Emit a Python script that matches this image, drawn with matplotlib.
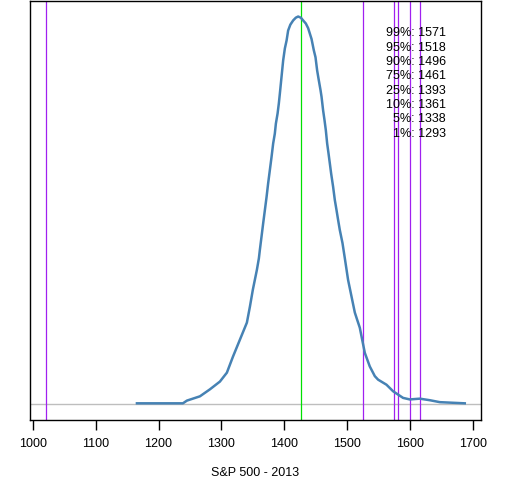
import numpy as np
import matplotlib
matplotlib.use("Agg")
import matplotlib.pyplot as plt

plt.rcParams["font.family"] = ["Liberation Sans", "DejaVu Sans"]

# density estimate of the index level (relative height)
level = [1165.7, 1202.2, 1238.8, 1245.2, 1265.8, 1281.7, 1297.6, 1308.7,
         1318.3, 1329.4, 1340.5, 1345.3, 1350.0, 1356.4, 1359.6, 1361.1,
         1363.8, 1366.4, 1369.1, 1371.8, 1374.3, 1377.0, 1379.7, 1382.3,
         1384.9, 1386.6, 1389.3, 1391.3, 1392.9, 1394.5, 1396.9, 1398.2,
         1400.9, 1403.6, 1406.1, 1409.6, 1414.1, 1418.3, 1422.0, 1426.3,
         1429.9, 1434.2, 1437.9, 1440.6, 1443.3, 1446.9, 1449.6, 1452.2,
         1454.9, 1457.6, 1459.2, 1461.7, 1463.9, 1466.0, 1468.1, 1470.3,
         1472.4, 1474.4, 1477.6, 1480.3, 1483.0, 1485.5, 1488.2, 1492.5,
         1496.2, 1501.4, 1512.1, 1515.7, 1520.0, 1522.7, 1528.0, 1535.9,
         1543.9, 1549.1, 1562.4, 1573.0, 1588.8, 1599.5, 1615.4, 1631.3,
         1647.2, 1686.9]
dens = [0.003, 0.003, 0.003, 0.010, 0.021, 0.039, 0.059, 0.082,
        0.123, 0.167, 0.211, 0.252, 0.296, 0.347, 0.377, 0.398,
        0.433, 0.467, 0.501, 0.535, 0.570, 0.604, 0.638, 0.673,
        0.698, 0.724, 0.750, 0.776, 0.801, 0.827, 0.866, 0.887,
        0.918, 0.938, 0.964, 0.979, 0.990, 0.997, 1.000, 0.997,
        0.990, 0.982, 0.970, 0.956, 0.942, 0.913, 0.895, 0.861,
        0.835, 0.810, 0.793, 0.758, 0.733, 0.707, 0.673, 0.647,
        0.621, 0.596, 0.561, 0.527, 0.501, 0.476, 0.450, 0.416,
        0.377, 0.321, 0.237, 0.219, 0.198, 0.176, 0.133, 0.098,
        0.073, 0.064, 0.051, 0.034, 0.017, 0.013, 0.015, 0.011,
        0.006, 0.003]

purple_lines = [1021, 1525.6, 1575, 1580, 1600, 1615]
green_line = 1427

q_labels = ["99%", "95%", "90%", "75%", "25%", "10%", "5%", "1%"]
q_values = [1571, 1518, 1496, 1461, 1393, 1361, 1338, 1293]

fig = plt.figure(figsize=(5.12, 4.8), dpi=100)
ax = fig.add_axes([30 / 512, 60 / 480, 451 / 512, 419 / 480])

ax.axhline(0, color="#BEBEBE", lw=1)
for v in purple_lines:
    ax.axvline(v, color="#A020F0", lw=0.9)
ax.axvline(green_line, color="#00E000", lw=0.9)
ax.plot(level, dens, color="#4682B4", lw=1.8)

for i, (lab, val) in enumerate(zip(q_labels, q_values)):
    ax.text(1656.7, 0.957 - i * 0.037, "%s: %d" % (lab, val),
            ha="right", va="center", fontsize=9)

ax.set_xlim(995.7, 1712.7)
ax.set_ylim(-0.04, 1.04)
ax.set_xticks(np.arange(1000, 1701, 100))
ax.set_yticks([])
ax.tick_params(axis="x", length=7, width=1, labelsize=9, pad=6)
for s in ax.spines.values():
    s.set_linewidth(1)
ax.set_xlabel("S&P 500 - 2013", fontsize=9, labelpad=12)

fig.savefig("out.png", dpi=100)
